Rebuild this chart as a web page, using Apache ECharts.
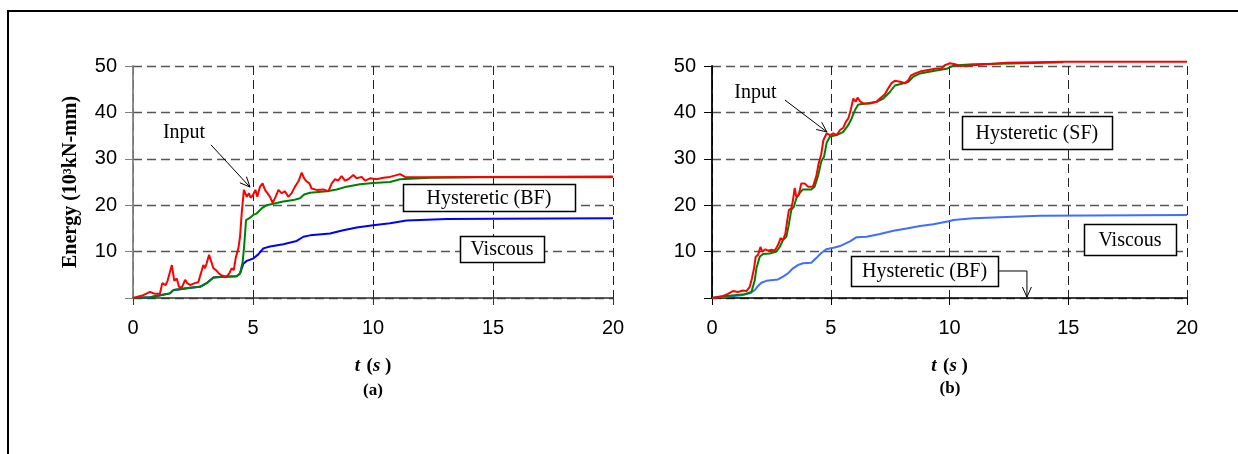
<!DOCTYPE html>
<html>
<head>
<meta charset="utf-8">
<script src="https://cdn.jsdelivr.net/npm/echarts@6/dist/echarts.min.js"></script>
<style>
html, body { margin: 0; padding: 0; background: #fff; }
#chart { width: 1238px; height: 454px; }
</style>
</head>
<body>
<div id="chart"></div>
<script>
// (a) time [s] and energy [10^3 kN-mm]
var timeA_input = [0, 0.43, 0.71, 0.92, 1.12, 1.22, 1.36, 1.44, 1.52, 1.62, 1.72, 1.82, 1.92, 2.03, 2.17, 2.26, 2.38, 2.58, 2.72, 2.83, 2.93, 3.0, 3.07, 3.17, 3.24, 3.35, 3.46, 3.56, 3.67, 3.8, 3.9, 4.01, 4.11, 4.2, 4.29, 4.39, 4.46, 4.53, 4.62, 4.74, 4.83, 4.9, 5.01, 5.1, 5.18, 5.29, 5.4, 5.5, 5.6, 5.71, 5.82, 5.94, 6.06, 6.19, 6.33, 6.47, 6.61, 6.75, 6.89, 7.03, 7.13, 7.24, 7.35, 7.44, 7.65, 7.93, 8.14, 8.28, 8.42, 8.55, 8.69, 8.83, 8.97, 9.18, 9.32, 9.53, 9.67, 9.88, 10.15, 10.43, 10.71, 11.13, 11.33, 12.1, 14.46, 20];
var energyA_input = [0, 0.6, 1.3, 0.9, 0.9, 3.2, 2.8, 3.7, 3.4, 7.1, 3.7, 4.2, 2.4, 2.2, 3.9, 3.2, 2.8, 3.2, 3.4, 5.3, 7.1, 6.4, 7.5, 9.3, 8.2, 6.4, 6.0, 5.4, 4.9, 4.7, 4.6, 5.3, 6.4, 6.0, 8.9, 10.7, 13.2, 18.3, 23.3, 21.8, 22.6, 21.6, 22.3, 23.3, 21.8, 24.0, 24.7, 23.3, 22.6, 21.8, 20.5, 21.8, 23.3, 22.6, 23.0, 21.8, 22.6, 24.0, 25.1, 27.0, 25.8, 25.1, 24.7, 23.6, 23.3, 23.4, 23.0, 24.7, 25.6, 25.3, 26.3, 25.3, 25.6, 26.5, 25.8, 26.1, 25.3, 25.8, 25.6, 25.9, 26.1, 26.7, 26.1, 26.0, 26.1, 26.2];

var timeA_hystBF = [0, 0.71, 1.19, 1.54, 1.68, 1.96, 2.38, 2.79, 3.07, 3.35, 3.76, 4.32, 4.46, 4.57, 4.64, 4.71, 4.85, 5.01, 5.15, 5.36, 5.57, 5.85, 6.26, 6.68, 6.96, 7.13, 7.38, 8.07, 8.49, 8.9, 9.46, 10.01, 10.71, 11.13, 12.4, 14.46, 20];
var energyA_hystBF = [0, 0.14, 0.65, 1.0, 1.7, 1.9, 2.2, 2.4, 3.2, 4.4, 4.6, 4.7, 5.3, 7.8, 11.7, 16.8, 17.2, 17.9, 18.2, 19.3, 20.0, 20.3, 20.8, 21.1, 21.5, 22.3, 22.7, 23.0, 23.4, 24.0, 24.5, 24.8, 25.0, 25.6, 25.9, 26.0, 26.0];

var timeA_viscous = [0, 0.71, 1.19, 1.54, 1.68, 1.96, 2.38, 2.79, 3.07, 3.35, 3.76, 4.32, 4.46, 4.6, 4.74, 5.01, 5.22, 5.43, 5.71, 6.26, 6.82, 7.1, 7.38, 8.21, 8.76, 9.32, 10.01, 10.71, 11.4, 13.07, 15.0, 20];
var energyA_viscous = [0, 0.14, 0.65, 1.0, 1.7, 1.9, 2.2, 2.4, 3.2, 4.4, 4.6, 4.7, 5.3, 7.4, 8.0, 8.5, 9.4, 10.7, 11.1, 11.6, 12.3, 13.2, 13.5, 13.9, 14.6, 15.2, 15.7, 16.1, 16.7, 17.0, 17.1, 17.2];

// (b)
var timeB_input = [0, 0.39, 0.67, 0.88, 1.09, 1.3, 1.45, 1.59, 1.68, 1.77, 1.84, 1.94, 2.04, 2.12, 2.25, 2.36, 2.5, 2.64, 2.78, 2.89, 2.99, 3.09, 3.17, 3.24, 3.34, 3.41, 3.48, 3.55, 3.65, 3.76, 3.9, 4.04, 4.25, 4.39, 4.49, 4.6, 4.69, 4.83, 4.97, 5.11, 5.25, 5.39, 5.53, 5.64, 5.74, 5.84, 5.95, 6.05, 6.13, 6.23, 6.37, 6.65, 6.93, 7.07, 7.28, 7.42, 7.56, 7.7, 7.92, 8.13, 8.27, 8.37, 8.55, 8.76, 9.04, 9.39, 9.67, 9.81, 10.02, 10.23, 10.44, 10.87, 12.4, 14.79, 20];
var energyB_input = [0, 0.3, 0.9, 1.5, 1.3, 1.6, 1.5, 2.4, 4.2, 6.4, 8.9, 9.3, 11.0, 10.0, 10.5, 10.2, 10.4, 10.2, 11.4, 12.9, 12.5, 13.9, 16.8, 19.0, 19.3, 21.1, 23.7, 21.8, 22.2, 24.7, 24.7, 24.0, 24.0, 26.2, 29.0, 31.0, 34.0, 35.5, 35.1, 35.5, 35.1, 36.2, 36.7, 38.0, 38.7, 40.5, 43.0, 42.3, 43.2, 42.4, 41.9, 41.9, 42.3, 43.0, 43.9, 45.2, 46.3, 46.8, 46.6, 46.3, 47.0, 47.9, 48.4, 48.8, 49.1, 49.4, 49.5, 50.2, 50.6, 50.4, 50.0, 50.1, 50.7, 50.9, 50.9];

var timeB_hystSF = [0, 0.39, 0.95, 1.37, 1.66, 1.8, 1.87, 2.01, 2.15, 2.43, 2.71, 2.85, 2.99, 3.13, 3.23, 3.34, 3.45, 3.55, 3.69, 3.83, 4.18, 4.32, 4.46, 4.6, 4.72, 4.83, 4.97, 5.25, 5.53, 5.74, 5.88, 6.02, 6.16, 6.51, 6.93, 7.21, 7.49, 7.7, 8.06, 8.27, 8.48, 8.76, 9.32, 9.88, 10.16, 11.0, 13.1, 14.79];
var energyB_hystSF = [0, 0.3, 0.6, 0.8, 1.3, 3.8, 6.4, 8.9, 9.5, 9.6, 10.0, 11.0, 12.5, 13.2, 15.7, 19.0, 19.7, 21.5, 22.6, 23.4, 23.4, 24.0, 26.2, 29.4, 30.5, 33.5, 34.8, 35.1, 35.8, 37.3, 38.7, 40.5, 41.7, 41.9, 42.3, 43.0, 44.4, 45.8, 46.3, 46.6, 47.7, 48.4, 48.9, 49.4, 50.1, 50.4, 50.6, 50.8];

var timeB_viscous = [0, 1.24, 1.59, 1.8, 1.94, 2.08, 2.29, 2.78, 2.99, 3.2, 3.41, 3.62, 3.83, 4.18, 4.39, 4.6, 4.81, 5.16, 5.39, 5.81, 6.09, 6.51, 7.07, 7.64, 8.2, 8.76, 9.32, 10.02, 10.16, 11.0, 13.8, 20];
var energyB_viscous = [0, 0.6, 1.0, 1.7, 2.6, 3.3, 3.7, 4.0, 4.6, 5.3, 6.4, 7.1, 7.5, 7.6, 8.6, 9.7, 10.5, 10.9, 11.2, 12.2, 13.1, 13.2, 13.8, 14.5, 15.0, 15.5, 15.9, 16.6, 16.8, 17.2, 17.7, 17.9];

var xTicks = { min: 0, max: 20, interval: 5 };
var yTicks = { min: 0, max: 50, interval: 10 };

function pairs(t, e) {
    return t.map(function (v, i) { return [v, e[i]]; });
}

var SERIF = '"Liberation Serif", "Times New Roman", serif';
var SANS = '"Liberation Sans", Arial, sans-serif';

function xAxis(gi, axisColor) {
    return {
        gridIndex: gi, type: 'value', min: xTicks.min, max: xTicks.max, interval: xTicks.interval,
        axisLine: { show: true, onZero: false, lineStyle: { color: axisColor, width: 1.5 } },
        axisTick: { show: true, inside: false, length: 7, lineStyle: { color: axisColor, width: 1 } },
        axisLabel: { fontFamily: SANS, fontSize: 20, color: '#000', margin: 20 },
        splitLine: { show: true, lineStyle: { type: [9, 5], color: '#222', width: 1 } },
        name: '{it|t}  {b|(}{it|s}{b| )}',
        nameLocation: 'middle', nameGap: 59,
        nameTextStyle: {
            rich: {
                it: { fontFamily: SERIF, fontStyle: 'italic', fontWeight: 'bold', fontSize: 19, color: '#000' },
                b: { fontFamily: SERIF, fontWeight: 'bold', fontSize: 19, color: '#000' }
            }
        }
    };
}

function yAxis(gi, axisColor, name) {
    return {
        gridIndex: gi, type: 'value', min: yTicks.min, max: yTicks.max, interval: yTicks.interval,
        axisLine: { show: true, onZero: false, lineStyle: { color: axisColor, width: 1.8 } },
        axisTick: { show: true, inside: false, length: 8, lineStyle: { color: axisColor, width: 1 } },
        axisLabel: {
            fontFamily: SANS, fontSize: 20, color: '#000', margin: 16,
            formatter: function (v) { return v === 0 ? '' : v; }
        },
        splitLine: { show: true, lineStyle: { type: [9, 5], color: '#555', width: 1.4 } },
        name: name || '',
        nameLocation: 'middle', nameGap: 52,
        nameTextStyle: { fontFamily: SERIF, fontWeight: 'bold', fontSize: 20, color: '#000' }
    };
}

function line(gi, data, color) {
    return {
        type: 'line', xAxisIndex: gi, yAxisIndex: gi, data: data,
        showSymbol: false, symbol: 'none', animation: false, clip: false,
        lineStyle: { color: color, width: 2 }
    };
}

var chart = echarts.init(document.getElementById('chart'));

chart.setOption({
    animation: false,
    backgroundColor: '#fff',
    grid: [
        { left: 133, top: 66, width: 480, height: 232 },
        { left: 712, top: 66, width: 475, height: 232 }
    ],
    xAxis: [xAxis(0, '#333'), xAxis(1, '#000')],
    yAxis: [yAxis(0, '#808080', 'Energy (10³kN-mm)'), yAxis(1, '#000')],
    series: [
        line(0, pairs(timeA_viscous, energyA_viscous), '#0000ff'),
        line(0, pairs(timeA_hystBF, energyA_hystBF), '#008000'),
        line(0, pairs(timeA_input, energyA_input), '#ff0000'),
        line(1, pairs(timeB_viscous, energyB_viscous), '#3f6fff'),
        line(1, pairs(timeB_hystSF, energyB_hystSF), '#008000'),
        line(1, pairs(timeB_input, energyB_input), '#ff0000')
    ]
});

// annotations, anchored in data units
var boxes = [
    { g: 0, text: 'Hysteretic (BF)', at: [14.83, 21.66], w: 172, h: 27 },
    { g: 0, text: 'Viscous', at: [15.375, 10.56], w: 84, h: 26 },
    { g: 1, text: 'Hysteretic (SF)', at: [13.68, 35.67], w: 150, h: 33 },
    { g: 1, text: 'Viscous', at: [17.6, 12.6], w: 92, h: 31 },
    { g: 1, text: 'Hysteretic (BF)', at: [8.95, 5.82], w: 147, h: 30 }
];
var labels = [
    { g: 0, text: 'Input', at: [2.125, 35.56] },
    { g: 1, text: 'Input', at: [1.83, 44.2] }
];
var arrows = [
    { g: 0, pts: [[3.25, 33.0], [4.875, 23.9]] },
    { g: 1, pts: [[3.07, 42.67], [4.84, 35.78]] },
    { g: 1, pts: [[12.04, 5.82], [13.26, 5.82], [13.26, 0.2]] }
];

function px(g, p) {
    return chart.convertToPixel({ gridIndex: g }, p);
}

var graphics = [];

// outer frame
graphics.push({
    type: 'rect', z: 100, silent: true,
    shape: { x: 8, y: 11, width: 1250, height: 470 },
    style: { fill: null, stroke: '#000', lineWidth: 2 }
});

// panel captions
[['(a)', 373, 391], ['(b)', 950, 389]].forEach(function (c) {
    graphics.push({
        type: 'text', z: 100, x: c[1], y: c[2],
        style: { text: c[0], font: 'bold 17px ' + SERIF, fill: '#000', align: 'center', verticalAlign: 'middle' }
    });
});

boxes.forEach(function (b) {
    var c = px(b.g, b.at);
    graphics.push({
        type: 'rect', z: 100,
        shape: { x: Math.round(c[0] - b.w / 2) + 0.5, y: Math.round(c[1] - b.h / 2) + 0.5, width: b.w, height: b.h },
        style: { fill: '#fff', stroke: '#000', lineWidth: 1.5 }
    });
    graphics.push({
        type: 'text', z: 101, x: c[0], y: c[1] + 1,
        style: { text: b.text, font: '20px ' + SERIF, fill: '#000', align: 'center', verticalAlign: 'middle' }
    });
});

labels.forEach(function (l) {
    var c = px(l.g, l.at);
    graphics.push({
        type: 'text', z: 101, x: c[0], y: c[1],
        style: { text: l.text, font: '20px ' + SERIF, fill: '#000', align: 'center', verticalAlign: 'middle' }
    });
});

arrows.forEach(function (a) {
    var p = a.pts.map(function (q) { return px(a.g, q); });
    graphics.push({
        type: 'polyline', z: 101, shape: { points: p },
        style: { stroke: '#000', lineWidth: 1, fill: null }
    });
    var tip = p[p.length - 1], from = p[p.length - 2];
    var dx = tip[0] - from[0], dy = tip[1] - from[1];
    var len = Math.sqrt(dx * dx + dy * dy);
    dx /= len; dy /= len;
    var hl = 11, ang = 0.42;
    function rot(s) {
        var ca = Math.cos(s), sa = Math.sin(s);
        return [tip[0] - hl * (dx * ca - dy * sa), tip[1] - hl * (dx * sa + dy * ca)];
    }
    graphics.push({
        type: 'polyline', z: 101, shape: { points: [rot(ang), tip, rot(-ang)] },
        style: { stroke: '#000', lineWidth: 1, fill: null }
    });
});

chart.setOption({ graphic: graphics });
</script>
</body>
</html>
